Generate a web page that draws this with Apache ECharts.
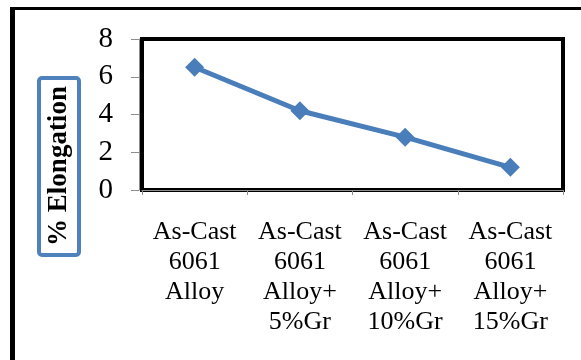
<!DOCTYPE html>
<html>
<head>
<meta charset="utf-8">
<script src="https://cdn.jsdelivr.net/npm/echarts@6/dist/echarts.min.js"></script>
<style>html,body{margin:0;padding:0;background:#fff}#c{width:581px;height:360px}</style>
</head>
<body>
<div id="c"></div>
<script>
const categories = ["As-Cast\n6061\nAlloy", "As-Cast\n6061\nAlloy+\n5%Gr", "As-Cast\n6061\nAlloy+\n10%Gr", "As-Cast\n6061\nAlloy+\n15%Gr"];
const elongation = [6.5, 4.2, 2.8, 1.2];
const yTicks = { min: 0, max: 8, interval: 2 };
const yTitle = "% Elongation";

const chart = echarts.init(document.getElementById('c'), null, { renderer: 'canvas' });
const serif = '"Liberation Serif", "Times New Roman", serif';
chart.setOption({
  animation: false,
  backgroundColor: '#fff',
  grid: { left: 142, right: 18, top: 39, bottom: 170, show: true, borderColor: '#000', borderWidth: 4, backgroundColor: 'transparent' },
  xAxis: {
    type: 'category', data: categories, boundaryGap: true, offset: 2,
    axisLine: { show: true, lineStyle: { color: '#8c8c8c', width: 1 } },
    axisTick: { show: true, alignWithLabel: false, length: 5, lineStyle: { color: '#8c8c8c' } },
    axisLabel: { fontFamily: serif, fontSize: 26, color: '#000', lineHeight: 30, margin: 25, interval: 0 }
  },
  yAxis: {
    type: 'value', min: yTicks.min, max: yTicks.max, interval: yTicks.interval, offset: 3,
    splitLine: { show: false },
    axisLine: { show: true, lineStyle: { color: '#8c8c8c', width: 1 } },
    axisTick: { show: true, length: 8, lineStyle: { color: '#8c8c8c' } },
    axisLabel: { fontFamily: serif, fontSize: 29, color: '#000', margin: 26 }
  },
  series: [{
    type: 'line', data: elongation, symbol: 'diamond', symbolSize: 19,
    lineStyle: { color: '#4A7EBB', width: 5 },
    itemStyle: { color: '#4A7EBB' }
  }],
  graphic: [
    { type: 'rect', shape: { x: 10, y: 7, width: 5, height: 353 }, style: { fill: '#000' } },
    { type: 'rect', shape: { x: 10, y: 7, width: 571, height: 3 }, style: { fill: '#000' } },
    { type: 'rect', shape: { x: 39, y: 78, width: 40, height: 177, r: 3 }, style: { fill: '#fff', stroke: '#4F81BD', lineWidth: 4 } },
    { type: 'text', x: 59, y: 166, rotation: Math.PI / 2,
      style: { text: yTitle, font: 'bold 27px ' + serif, fill: '#000', align: 'center', verticalAlign: 'middle' } }
  ]
});
</script>
</body>
</html>
